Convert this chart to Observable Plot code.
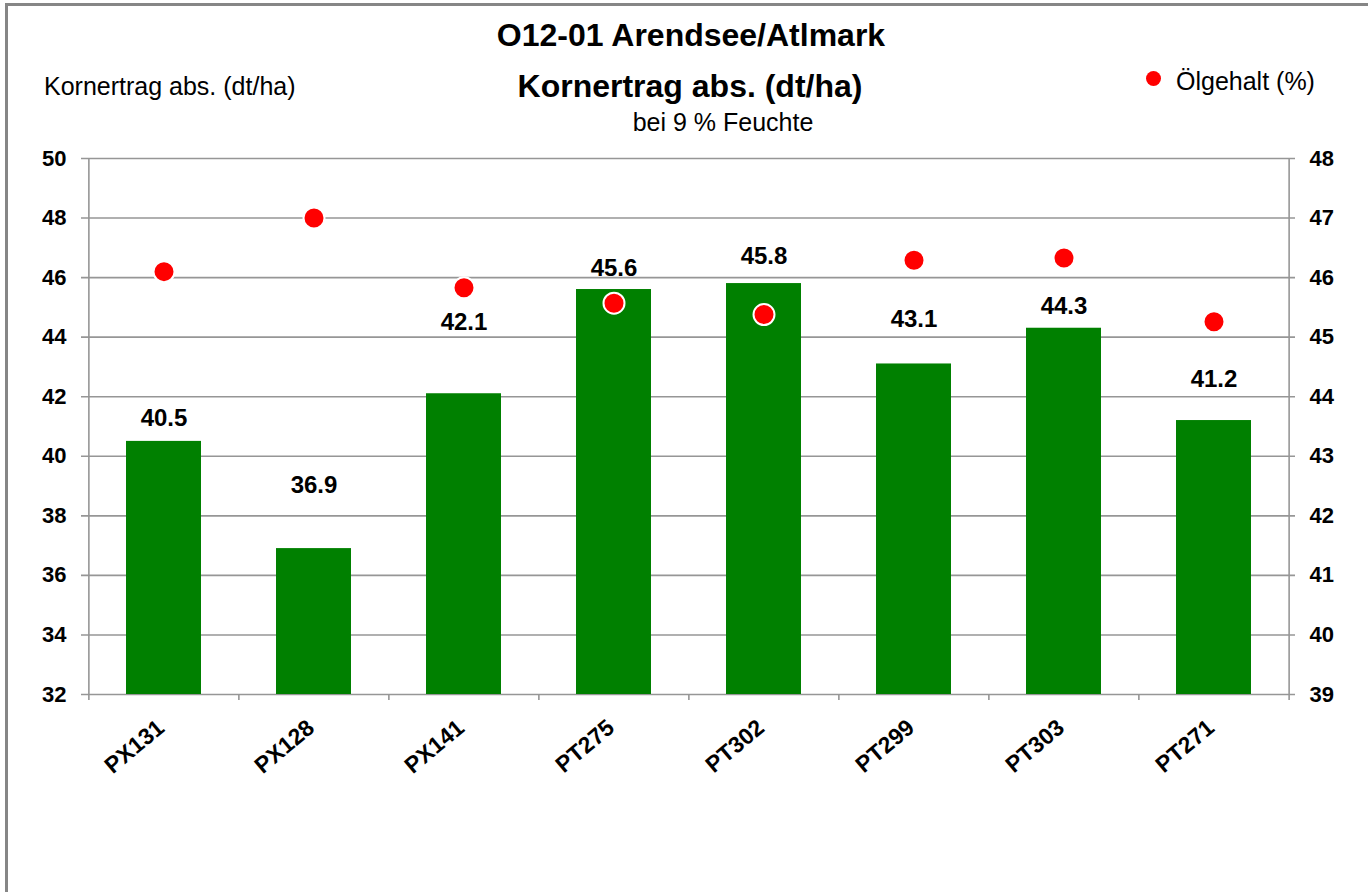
<!DOCTYPE html>
<html>
<head>
<meta charset="utf-8">
<script src="https://cdn.jsdelivr.net/npm/d3@7"></script>
<script src="https://cdn.jsdelivr.net/npm/@observablehq/plot@0.6"></script>
<style>
  html, body { margin: 0; padding: 0; width: 1368px; height: 892px; overflow: hidden; background: #fff; font-family: "Liberation Sans", Arial, sans-serif; }
  #frame { position: absolute; left: 5px; top: 3px; width: 1400px; height: 1000px; border-left: 3px solid #868686; border-top: 3px solid #868686; box-sizing: border-box; }
  .t { position: absolute; white-space: nowrap; color: #000; line-height: 1; }
  .c { transform: translate(-50%, -50%); }
  .l { transform: translate(0, -50%); }
  #chart { position: absolute; left: 0; top: 0; }
  #dot { position: absolute; width: 15px; height: 15px; border-radius: 50%; background: #ff0000; left: 1146px; top: 71px; }
</style>
</head>
<body>
<div id="frame"></div>
<div id="chart"></div>
<div class="t c" style="left:691px; top:35px; font-size:32px; font-weight:bold;">O12-01 Arendsee/Atlmark</div>
<div class="t c" style="left:690px; top:86px; font-size:32px; font-weight:bold;">Kornertrag abs. (dt/ha)</div>
<div class="t c" style="left:723px; top:122px; font-size:25px;">bei 9 % Feuchte</div>
<div class="t l" style="left:44px; top:86px; font-size:25px;">Kornertrag abs. (dt/ha)</div>
<div id="dot"></div>
<div class="t l" style="left:1176px; top:81px; font-size:25px;">Ölgehalt (%)</div>
<script>
const categories = ["PX131", "PX128", "PX141", "PT275", "PT302", "PT299", "PT303", "PT271"];
const yieldValues = [40.5, 36.9, 42.1, 45.6, 45.8, 43.1, 44.3, 41.2];
const oilValues = [46.1, 47.0, 45.83, 45.57, 45.38, 46.29, 46.33, 45.26];
const labelAt = [41.28, 39.03, 44.51, 46.31, 46.73, 44.59, 45.04, 42.59];
const leftTicks = [32, 34, 36, 38, 40, 42, 44, 46, 48, 50];
const rightTicks = [39, 40, 41, 42, 43, 44, 45, 46, 47, 48];

const yDomain = [32, 50];
const rDomain = [39, 48];
const toLeft = v => yDomain[0] + (v - rDomain[0]) * (yDomain[1] - yDomain[0]) / (rDomain[1] - rDomain[0]);
const toRight = v => rDomain[0] + (v - yDomain[0]) * (rDomain[1] - rDomain[0]) / (yDomain[1] - yDomain[0]);

const data = categories.map((c, i) => ({cat: c, yield: yieldValues[i], oil: oilValues[i], lab: labelAt[i]}));

const W = 1368, H = 892;
const mL = 87, mR = 79, mT = 158, mB = 198;
const step = (W - mL - mR) / categories.length;
const grey = "#969696";

const chart = Plot.plot({
  width: W, height: H,
  marginLeft: mL, marginRight: mR, marginTop: mT, marginBottom: mB,
  style: {fontFamily: "'Liberation Sans', Arial, sans-serif", background: "transparent", overflow: "visible"},
  x: {domain: categories, paddingInner: 0.5, paddingOuter: 0.25, axis: null},
  y: {domain: yDomain, axis: null},
  marks: [
    Plot.ruleY(rightTicks.map(toLeft), {stroke: grey, strokeWidth: 1.6, insetLeft: -6, insetRight: -6}),
    Plot.ruleX([categories[0]], {x: d => d, dx: -step / 2, stroke: grey, strokeWidth: 1.6}),
    Plot.ruleX([categories[categories.length - 1]], {x: d => d, dx: step / 2, stroke: grey, strokeWidth: 1.6}),
    Plot.axisX(categories, {tickSize: 6, dx: -step / 2, tickFormat: () => "", label: null, stroke: grey, strokeWidth: 1.6}),
    Plot.axisX([categories[categories.length - 1]], {tickSize: 6, dx: step / 2, tickFormat: () => "", label: null, stroke: grey, strokeWidth: 1.6}),
    Plot.barY(data, {x: "cat", y1: () => yDomain[0], y2: "yield", fill: "#008000"}),
    Plot.dot(data, {x: "cat", y: d => toLeft(d.oil), r: 10.5, fill: "#ff0000", stroke: "#ffffff", strokeWidth: 2}),
    Plot.text(data, {x: "cat", y: "lab", text: d => d.yield.toFixed(1), fontSize: 24, fontWeight: "bold", fill: "#000"}),
    Plot.axisY(leftTicks, {anchor: "left", tickSize: 0, tickPadding: 21, fontSize: 22, fontWeight: "bold", fill: "#000", label: null}),
    Plot.axisY(leftTicks, {anchor: "right", tickSize: 0, tickPadding: 20, fontSize: 22, fontWeight: "bold", fill: "#000", label: null, tickFormat: d => String(toRight(d))}),
    Plot.axisX(categories, {tickSize: 0, tickPadding: 30, tickRotate: -40, fontSize: 23, fontWeight: "bold", fill: "#000", dx: -3, label: null})
  ]
});
document.getElementById("chart").appendChild(chart);
</script>
</body>
</html>
